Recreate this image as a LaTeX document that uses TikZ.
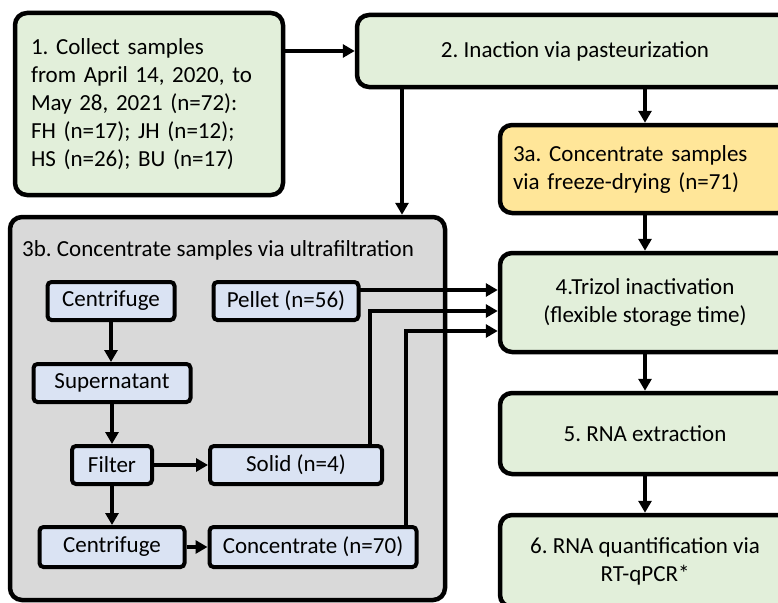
\documentclass[tikz,border=0pt]{standalone}
\usepackage{fontspec}
\setmainfont{Carlito}
\frenchspacing
\usetikzlibrary{arrows.meta,calc}
\definecolor{boxgreen}{HTML}{E2EFDA}
\definecolor{boxyellow}{HTML}{FFE699}
\definecolor{boxblue}{HTML}{DAE3F3}
\definecolor{boxgray}{HTML}{D9D9D9}
\tikzset{
  bigbox/.style={draw=black, line width=4.5pt, rounded corners=12pt, fill=boxgreen,
    font=\fontsize{23}{28}\selectfont, inner sep=0pt, align=center},
  smallbox/.style={draw=black, line width=4pt, rounded corners=4pt, fill=boxblue,
    font=\fontsize{23}{28}\selectfont, inner sep=0pt, align=center},
  arr/.style={line width=3.5pt, -{Triangle[length=12pt,width=13pt]}},
  ln/.style={line width=3.5pt}
}
\begin{document}
\begin{tikzpicture}[x=1pt,y=-1pt]
\useasboundingbox (0,0) rectangle (778,602);
% big boxes
\node[bigbox, minimum width=268pt, minimum height=182pt, text width=236pt, align=left] (b1) at (149,104)
  {1. Collect samples\\from April 14, 2020, to\\May 28, 2021 (n=72):\\FH (n=17); JH (n=12);\\HS (n=26); BU (n=17)};
\node[bigbox, minimum width=436pt, minimum height=72pt] (b2) at (575,51) {2. Inaction via pasteurization};
\node[bigbox, fill=boxyellow, minimum width=290pt, minimum height=88pt, text width=264pt, align=left] (b3a) at (645,169)
  {3a. Concentrate samples\\via freeze-drying (n=71)};
\node[bigbox, fill=boxgray, minimum width=435pt, minimum height=383pt] (b3b) at (227.5,408.5) {};
\node[anchor=west, inner sep=0pt, font=\fontsize{23}{28}\selectfont] (t3b) at (22,250) {3b. Concentrate samples via ultrafiltration};
\node[bigbox, minimum width=290pt, minimum height=99pt] (b4) at (645,302.5) {4.Trizol inactivation\\(flexible storage time)};
\node[bigbox, minimum width=290pt, minimum height=81pt] (b5) at (645,433.5) {5. RNA extraction};
\node[bigbox, minimum width=290pt, minimum height=92pt] (b6) at (645,561) {6. RNA quantification via\\RT-qPCR*};
% inner boxes
\node[smallbox, minimum width=127pt, minimum height=38pt] (c1) at (111,301) {Centrifuge};
\node[smallbox, minimum width=157pt, minimum height=38pt] (sup) at (112,383) {Supernatant};
\node[smallbox, minimum width=80pt, minimum height=38pt] (fil) at (112,465) {Filter};
\node[smallbox, minimum width=145pt, minimum height=40pt] (c2) at (112,547) {Centrifuge};
\node[smallbox, minimum width=145pt, minimum height=38pt] (pel) at (286,301) {Pellet (n=56)};
\node[smallbox, minimum width=172pt, minimum height=38pt] (sol) at (296,465) {Solid (n=4)};
\node[smallbox, minimum width=207pt, minimum height=40pt] (con) at (313,547) {Concentrate (n=70)};
% coordinates
\coordinate (p1) at (402,87);
\coordinate (s1) at (370,446);
\coordinate (s2) at (370,311);
\coordinate (k1) at (406,527);
\coordinate (k2) at (406,331);
\coordinate (pe) at (358,290);
% connectors
\draw[arr] (b1.east |- b2.west) -- (b2.west);
\draw[arr] (p1) -- (p1 |- b3b.north);
\draw[arr] (b2.south -| b3a.north) -- (b3a.north);
\draw[arr] (b3a.south) -- (b4.north);
\draw[arr] (b4.south) -- (b5.north);
\draw[arr] (b5.south) -- (b6.north);
\draw[arr] (c1.south) -- (c1.south |- sup.north);
\draw[arr] (sup.south) -- (sup.south |- fil.north);
\draw[arr] (fil.south) -- (fil.south |- c2.north);
\draw[arr] (fil.east) -- (sol.west);
\draw[arr] (c2.east) -- (con.west);
\draw[arr] (pe) -- (pe -| b4.west);
\draw[arr] (s1) -- (s2) -- (s2 -| b4.west);
\draw[arr] (k1) -- (k2) -- (k2 -| b4.west);
\end{tikzpicture}
\end{document}
